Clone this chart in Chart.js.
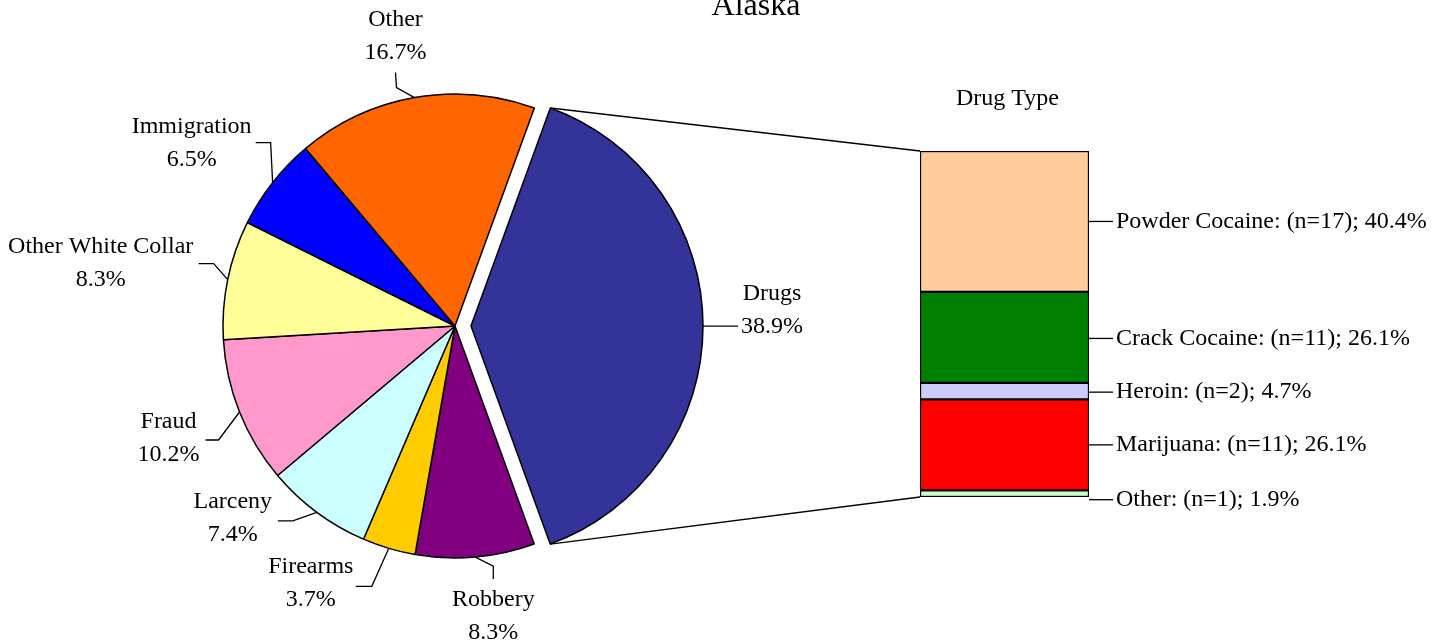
<!DOCTYPE html>
<html>
<head>
<meta charset="utf-8">
<script src="https://cdn.jsdelivr.net/npm/chart.js@4.4.0/dist/chart.umd.min.js"></script>
<style>
  html, body { margin: 0; padding: 0; background: #fff; }
  #wrap { position: relative; width: 1443px; height: 641px; }
  #wrap canvas { position: absolute; left: 0; top: 0; }
</style>
</head>
<body>
<div id="wrap">
  <canvas id="pie" width="1443" height="641"></canvas>
  <canvas id="bar" width="1443" height="641"></canvas>
</div>
<script>
// offense categories, clockwise from Drugs
const offenses = ["Drugs", "Robbery", "Firearms", "Larceny", "Fraud", "Other White Collar", "Immigration", "Other"];
const offenseShares = [38.9, 8.3, 3.7, 7.4, 10.2, 8.3, 6.5, 16.7];

// drug breakdown, top to bottom of the bar
const drugTypes = ["Powder Cocaine", "Crack Cocaine", "Heroin", "Marijuana", "Other"];
const drugCounts = [17, 11, 2, 11, 1];
const drugShares = [40.4, 26.1, 4.7, 26.1, 1.9];

const pieColors = ["#333399", "#800080", "#FFCC00", "#CCFFFF", "#FF99CC", "#FFFF99", "#0000FF", "#FF6600"];
const barColors = ["#FFCC99", "#008000", "#CCCCFF", "#FF0000", "#CCFFCC"];

const FONT = '24px "Liberation Serif", "Times New Roman", serif';
const explode = 16;

// label placement relative to the point on the arc (text block centre + leader polyline)
const pieLabelLayout = [
  { text: [69, -16], leader: [[0, 0], [35, 0]] },
  { text: [18, 59], leader: [[0, 0], [18, 9], [18, 22]] },
  { text: [-78, 35], leader: [[0, 0], [-17, 38], [-33, 38]] },
  { text: [-84, 5.5], leader: [[0, 0], [-24, 8.5], [-39, 8.5]] },
  { text: [-71, 26], leader: [[0, 0], [-21, 28], [-34, 28]] },
  { text: [-127, -16], leader: [[0, 0], [-14, -16], [-29, -16]] },
  { text: [-81, -39], leader: [[0, 0], [-2, -40], [-17, -40]] },
  { text: [-19, -61], leader: [[0, 0], [-18, -10], [-19, -25]] }
];
// small vertical nudges for the bar labels (Excel pushes the last one down)
const barLabelNudge = [0, 1, 1, 0, 6];

function polyline(ctx, pts) {
  ctx.beginPath();
  ctx.moveTo(pts[0][0], pts[0][1]);
  for (let i = 1; i < pts.length; i++) ctx.lineTo(pts[i][0], pts[i][1]);
  ctx.stroke();
}

const explodePlugin = {
  id: "explode",
  afterUpdate(chart) {
    let arc = chart.getDatasetMeta(0).data[0];
    let mid = (arc.startAngle + arc.endAngle) / 2;
    arc.x += Math.cos(mid) * explode;
    arc.y += Math.sin(mid) * explode;
  }
};

const pieLabelPlugin = {
  id: "pieLabels",
  afterDraw(chart) {
    let ctx = chart.ctx;
    let arcs = chart.getDatasetMeta(0).data;
    ctx.save();
    ctx.font = FONT;
    ctx.fillStyle = "#000";
    ctx.strokeStyle = "#000";
    ctx.lineWidth = 1.3;
    ctx.textAlign = "center";
    ctx.textBaseline = "middle";
    arcs.forEach((arc, i) => {
      let mid = (arc.startAngle + arc.endAngle) / 2;
      let ax = arc.x + Math.cos(mid) * arc.outerRadius;
      let ay = arc.y + Math.sin(mid) * arc.outerRadius;
      let lay = pieLabelLayout[i];
      polyline(ctx, lay.leader.map(p => [ax + p[0], ay + p[1]]));
      let tx = ax + lay.text[0];
      let ty = ay + lay.text[1];
      ctx.fillText(offenses[i], tx, ty - 16.5);
      ctx.fillText(offenseShares[i].toFixed(1) + "%", tx, ty + 16.5);
    });
    ctx.restore();
  }
};

const pieChart = new Chart(document.getElementById("pie"), {
  type: "pie",
  data: {
    labels: offenses,
    datasets: [{
      data: offenseShares,
      backgroundColor: pieColors,
      borderColor: "#000",
      borderWidth: 1.5
    }]
  },
  options: {
    responsive: false,
    animation: false,
    events: [],
    rotation: 20,
    radius: 232,
    layout: { padding: { left: 205, right: 738, top: 76, bottom: 65 } },
    plugins: { legend: { display: false }, tooltip: { enabled: false } }
  },
  plugins: [explodePlugin, pieLabelPlugin]
});

const barLabelPlugin = {
  id: "barLabels",
  afterDraw(chart) {
    let ctx = chart.ctx;
    let n = drugTypes.length;
    ctx.save();
    ctx.fillStyle = "#000";
    ctx.strokeStyle = "#000";
    ctx.lineWidth = 1.3;

    // datasets are stacked bottom-up, so dataset j holds drug n-1-j
    let topBar = chart.getDatasetMeta(n - 1).data[0];
    let bottomBar = chart.getDatasetMeta(0).data[0];
    let left = topBar.x - topBar.width / 2;
    let right = topBar.x + topBar.width / 2;

    // connectors from the exploded slice to the bar
    let arc = pieChart.getDatasetMeta(0).data[0];
    let r = arc.outerRadius;
    polyline(ctx, [[arc.x + Math.cos(arc.startAngle) * r, arc.y + Math.sin(arc.startAngle) * r], [left, topBar.y]]);
    polyline(ctx, [[arc.x + Math.cos(arc.endAngle) * r, arc.y + Math.sin(arc.endAngle) * r], [left, bottomBar.base]]);

    ctx.font = FONT;
    ctx.textAlign = "left";
    ctx.textBaseline = "middle";
    for (let i = 0; i < n; i++) {
      let el = chart.getDatasetMeta(n - 1 - i).data[0];
      let y = (el.y + el.base) / 2 + barLabelNudge[i];
      polyline(ctx, [[right, y], [right + 24, y]]);
      ctx.fillText(drugTypes[i] + ": (n=" + drugCounts[i] + "); " + drugShares[i].toFixed(1) + "%", right + 27, y);
    }

    ctx.textAlign = "center";
    ctx.fillText("Drug Type", topBar.x + 3, 99);

    ctx.font = '32px "Liberation Serif", "Times New Roman", serif';
    ctx.textBaseline = "alphabetic";
    ctx.fillText("Alaska", 756, 15);
    ctx.restore();
  }
};

new Chart(document.getElementById("bar"), {
  type: "bar",
  data: {
    labels: ["Drug Type"],
    datasets: drugTypes.map((t, i) => ({
      label: t,
      data: [drugShares[i]],
      backgroundColor: barColors[i],
      borderColor: "#000",
      borderWidth: 1.5,
      borderSkipped: false,
      barPercentage: 1,
      categoryPercentage: 1
    })).reverse()
  },
  options: {
    responsive: false,
    animation: false,
    events: [],
    layout: { padding: { left: 920, right: 354, top: 151, bottom: 144 } },
    scales: {
      x: { display: false, stacked: true },
      y: { display: false, stacked: true, min: 0, max: drugShares.reduce((a, b) => a + b, 0) }
    },
    plugins: { legend: { display: false }, tooltip: { enabled: false } }
  },
  plugins: [barLabelPlugin]
});
</script>
</body>
</html>
